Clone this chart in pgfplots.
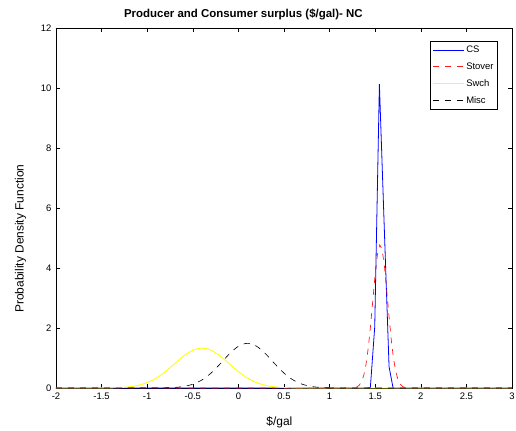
\documentclass[border=0pt]{standalone}
\usepackage{fontspec}
\setmainfont{Liberation Sans}
\usepackage{pgfplots}
\pgfplotsset{compat=1.18}
\definecolor{csblue}{rgb}{0,0,1}
\definecolor{stred}{rgb}{1,0.1,0.1}
\definecolor{swyellow}{rgb}{1,1,0}

\begin{document}
\begin{tikzpicture}
\begin{axis}[
  name=ax, at={(0,0)}, anchor=south west,
  scale only axis, width=456bp, height=360bp,
  xmin=-2, xmax=3, ymin=0, ymax=12,
  xtick={-2,-1.5,...,3},
  xticklabels={-2,-1.5,-1,-0.5,0,0.5,1,1.5,2,2.5,3},
  ytick={0,2,...,12},
  yticklabels={0,2,4,6,8,10,12},
  tick align=inside, major tick length=4bp,
  tick style={black, line width=0.5pt},
  axis line style={black, line width=0.6pt},
  tick label style={font=\fontsize{9.5}{11}\selectfont},
  xticklabel style={yshift=-1bp},
  yticklabel style={xshift=-1bp},
  title={\textbf{Producer and Consumer surplus (\$/gal)- NC}},
  title style={font=\fontsize{11.5}{13}\selectfont,
    at={(axis description cs:0.411,1)}, anchor=base, yshift=5bp},
  xlabel={\$/gal},
  ylabel={Probability Density Function},
  label style={font=\fontsize{12}{14}\selectfont},
  xlabel style={at={(axis description cs:0.49,0)}, anchor=base, yshift=-37bp},
  ylabel style={at={(axis description cs:-0.078,0.415)}, anchor=center},
  legend style={at={(axis description cs:0.969,0.964)}, anchor=north east,
    font=\fontsize{9.5}{11}\selectfont, draw=black, line width=0.5pt,
    inner xsep=2bp, inner ysep=3bp, row sep=4.5bp,
    legend cell align=left},
  legend image code/.code={\draw[#1] (0bp,0bp) -- (31bp,0bp);},
  clip=true,
]
% CS
\addplot[color=csblue, line width=0.8pt] coordinates {
 (-2,0) (1.40,0) (1.447,0.02) (1.495,2.04) (1.546,10.13) (1.600,5.30)
 (1.652,0.71) (1.696,0) (3,0)};
\addlegendentry{CS}
% Stover
\addplot[color=stred, line width=0.7pt, dash pattern=on 6bp off 6bp] coordinates {
 (-2,0) (1.275,0) (1.30,0.04) (1.325,0.09) (1.35,0.21) (1.375,0.43) (1.40,0.80)
 (1.425,1.36) (1.45,2.10) (1.475,2.96) (1.50,3.81) (1.525,4.46)
 (1.55,4.77) (1.575,4.63) (1.60,4.10) (1.625,3.31) (1.65,2.44)
 (1.675,1.64) (1.70,1.00) (1.725,0.56) (1.75,0.28) (1.775,0.13)
 (1.80,0.05) (1.825,0.02) (1.85,0) (3,0)};
\addlegendentry{Stover}
% Swch
\addplot[color=swyellow, line width=0.9pt, smooth] coordinates {
 (-2,0) (-1.6,0) (-1.5,0.002) (-1.4,0.005) (-1.3,0.015) (-1.2,0.038) (-1.1,0.087)
 (-1.0,0.18) (-0.9,0.33) (-0.8,0.547) (-0.7,0.807) (-0.6,1.065)
 (-0.5,1.258) (-0.4,1.33) (-0.3,1.258) (-0.2,1.065) (-0.1,0.807)
 (0.0,0.547) (0.1,0.33) (0.2,0.18) (0.3,0.087) (0.4,0.038)
 (0.5,0.015) (0.6,0.005) (0.7,0.002) (0.8,0) (3,0)};
\addlegendentry{Swch}
% Misc
\addplot[color=black, line width=0.6pt, smooth, dash pattern=on 6bp off 6bp] coordinates {
 (-2,0) (-0.9,0) (-0.8,0.006) (-0.7,0.018) (-0.6,0.052) (-0.5,0.126) (-0.4,0.268)
 (-0.3,0.497) (-0.2,0.804) (-0.1,1.133) (0.0,1.391) (0.1,1.49)
 (0.2,1.391) (0.3,1.133) (0.4,0.804) (0.5,0.497) (0.6,0.268)
 (0.7,0.126) (0.8,0.052) (0.9,0.018) (1.0,0.006) (1.1,0) (3,0)};
\addlegendentry{Misc}
\end{axis}
\pgfresetboundingbox
\path (-56bp,-43bp) rectangle (460bp,388bp);
\end{tikzpicture}
\end{document}
